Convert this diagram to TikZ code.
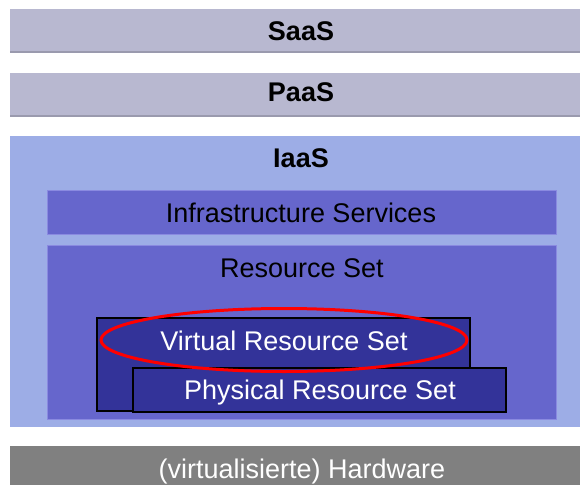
\documentclass[tikz,border=0pt]{standalone}
\usepackage{fontspec}
\setmainfont{Liberation Sans}
\usetikzlibrary{shapes.geometric}
\definecolor{bandgray}{HTML}{B8B8D0}
\definecolor{bandline}{HTML}{9A9AAE}
\definecolor{iaasblue}{HTML}{9DADE6}
\definecolor{midblue}{HTML}{6666CC}
\definecolor{midline}{HTML}{8A8AE0}
\definecolor{deepblue}{HTML}{333399}
\definecolor{hwgray}{HTML}{808080}
\tikzset{
  layer/.style={rectangle, inner sep=0pt, outer sep=0pt},
  bigtext/.style={font=\fontsize{27}{32}\selectfont, inner sep=0pt, anchor=base},
  boldtext/.style={bigtext, font=\fontsize{27}{32}\selectfont\bfseries}
}
\begin{document}
\begin{tikzpicture}[x=1pt,y=-1pt]
\useasboundingbox (0,0) rectangle (580,484);
\clip (0,0) rectangle (580,484);
\fill[white] (0,0) rectangle (580,484);

% top service layers
\node[layer, fill=bandgray, minimum width=582pt, minimum height=43pt] (saas) at (301,30.5) {};
\draw[bandline, line width=1.5pt] (saas.south west) -- (saas.south east);
\node[boldtext] (saast) at (301,40.5) {SaaS};

\node[layer, fill=bandgray, minimum width=582pt, minimum height=43pt] (paas) at (301,94.5) {};
\draw[bandline, line width=1.5pt] (paas.south west) -- (paas.south east);
\node[boldtext] (paast) at (301,102) {PaaS};

% infrastructure layer
\node[layer, fill=iaasblue, minimum width=582pt, minimum height=291pt] (iaas) at (301,281.5) {};
\node[boldtext] (iaast) at (301,167.5) {IaaS};

\node[layer, fill=midblue, draw=midline, line width=0.8pt, minimum width=509pt, minimum height=44pt] (infra) at (301.5,212) {};
\node[bigtext, text=black] (infrat) at (301,222) {Infrastructure Services};

\node[layer, fill=midblue, draw=midline, line width=0.8pt, minimum width=509pt, minimum height=174pt] (rset) at (301.5,332) {};
\node[bigtext, text=black] (rsett) at (302,277) {Resource Set};

\node[layer, fill=deepblue, draw=black, line width=1.2pt, minimum width=373pt, minimum height=93pt] (virt) at (283.5,364.5) {};
\node[layer, fill=deepblue, draw=black, line width=1.2pt, minimum width=373pt, minimum height=44pt] (phys) at (319.5,390) {};
\node[ellipse, draw=red, line width=3pt, inner sep=0pt, minimum width=366pt, minimum height=63pt] (mark) at (284,340) {};
\node[bigtext, text=white] (virtt) at (284,350) {Virtual Resource Set};
\node[bigtext, text=white] (physt) at (320,399) {Physical Resource Set};

% hardware base
\node[layer, fill=hwgray, minimum width=582pt, minimum height=40pt] (hw) at (301,466) {};
\node[bigtext, text=white] (hwt) at (302,478) {(virtualisierte) Hardware};
\end{tikzpicture}
\end{document}
